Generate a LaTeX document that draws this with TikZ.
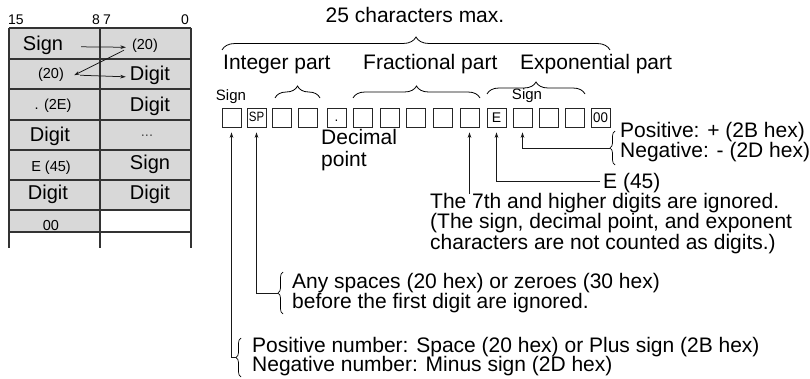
\documentclass[tikz,border=0pt]{standalone}
\usepackage{fontspec}
\setmainfont{Liberation Sans}
\usetikzlibrary{arrows.meta,decorations.pathreplacing,calc}
\definecolor{cellgray}{HTML}{D8D8D8}
\definecolor{linegray}{HTML}{333333}
\begin{document}
\begin{tikzpicture}[x=1pt,y=-1pt,
  bigt/.style={font=\fontsize{21}{22}\selectfont, inner sep=0pt, anchor=base west},
  bigc/.style={font=\fontsize{21}{22}\selectfont, inner sep=0pt, anchor=base},
  tbig/.style={font=\fontsize{20}{22}\selectfont, inner sep=0pt, anchor=base},
  tsmall/.style={font=\fontsize{14.5}{16}\selectfont, inner sep=0pt, anchor=base},
  hdr/.style={font=\fontsize{14}{16}\selectfont, inner sep=0pt, anchor=base},
  lbl/.style={font=\fontsize{15}{16}\selectfont, inner sep=0pt, anchor=base},
  boxt/.style={font=\fontsize{13.5}{14}\selectfont, inner sep=0pt},
  grid/.style={draw=linegray, line width=1.1pt},
  chbox/.style={draw=black!85, line width=0.75pt, minimum size=19pt, inner sep=0pt},
  arr/.style={-{Stealth[length=5.5pt,width=3.6pt]}, line width=0.75pt, black!90},
  bigbrace/.style={decorate, decoration={brace, amplitude=13pt}, line width=0.8pt},
  midbrace/.style={decorate, decoration={brace, amplitude=12pt}, line width=0.8pt},
  smbrace/.style={decorate, decoration={brace, amplitude=5pt}, line width=0.7pt}
]
\useasboundingbox (0,0) rectangle (810,379);

% ---------------- table ----------------
\fill[cellgray] (9,28) rectangle (191,210);
\fill[cellgray] (9,210) rectangle (100,232);
\foreach \yy in {28,59,89,120,150,180,210,232} \draw[grid] (9,\yy) -- (191,\yy);
\foreach \xx in {9,100,191} \draw[grid] (\xx,28) -- (\xx,248);

\node[hdr, anchor=base west] (h15) at (8,25) {15};
\node[hdr, anchor=base east] (h8) at (100,25) {8};
\node[hdr, anchor=base west] (h7) at (103,25) {7};
\node[hdr, anchor=base east] (h0) at (189,25) {0};

\node[tbig] (tSign) at (43,51) {Sign};
\node[tsmall] (t20r) at (145,50) {(20)};
\node[tsmall] (t20l) at (51,79) {(20)};
\node[tbig] (tDig1) at (150,81) {Digit};
\node[tsmall] (t2E) at (53,110) {. (2E)};
\node[tbig] (tDig2) at (150,112) {Digit};
\node[tbig] (tDig3) at (50,142) {Digit};
\node[tsmall, text=black!70] (tdots) at (147,137) {...};
\node[tsmall] (tE45) at (51,172) {E (45)};
\node[tbig] (tSign2) at (150,170) {Sign};
\node[tbig] (tDig4) at (48,200) {Digit};
\node[tbig] (tDig5) at (150,200) {Digit};
\node[tsmall] (t00) at (51,230) {00};

\draw[arr] ($(tSign.east)+(18,1)$) -- ($(t20r.west)+(-6,1)$);
\draw[arr] ($(t20r.west)+(-8,4)$) -- ($(t20l.east)+(10,0)$);
\draw[arr] ($(t20l.east)+(16,0)$) -- ($(tDig1.west)+(-4,1)$);

% ---------------- character boxes ----------------
\foreach \n/\xx in {1/222,2/247,3/272,4/298,5/327,6/353,7/380,8/406,9/433,10/460,11/487,12/513,13/539,14/565,15/591}
  \node[chbox] (b\n) at (\xx+9.5,117.5) {};
\node[boxt, xscale=0.85] (tSP) at ($(b2)+(0,-1)$) {SP};
\node[boxt, anchor=base] (tdot) at (336.5,122) {.};
\node[boxt, font=\fontsize{14}{14}\selectfont] (tE) at (b11) {E};
\node[boxt, font=\fontsize{14}{14}\selectfont, xscale=0.95] (t00b) at (b15) {00};

% ---------------- top labels ----------------
\node[bigc] (t25) at (415,23) {25 characters max.};
\draw[bigbrace] (222,50) -- (610,50);
\node[bigt] (tint) at (223,70) {Integer part};
\node[bigt] (tfrac) at (363,70) {Fractional part};
\node[bigt] (texp) at (520,70) {Exponential part};
\draw[midbrace] (275,98) -- (320,98);
\draw[midbrace] (353,98) -- (480,98);
\draw[midbrace] (487,94) -- (585,94);
\node[lbl] (sgn1) at (231,101) {Sign};
\node[lbl] (sgn2) at (527,100) {Sign};
\node[bigt, align=left, anchor=north west] (tdec) at (321,129) {Decimal\\point};

% ---------------- exponent sign ----------------
\node[bigt] (tpos) at (620,138) {Positive: + (2B hex)};
\node[bigt] (tneg) at (620,158) {Negative: - (2D hex)};
\draw[smbrace] (615,165) -- (615,131);
\coordinate (psTip) at (610,148);
\draw[arr, shorten >=5pt] (psTip) -| (b12.south);

% ---------------- E ----------------
\node[bigt] (te45) at (603,189) {E (45)};
\coordinate (eL) at ($(te45.base west)+(-3,-8)$);
\draw[arr, shorten >=5pt] (eL) -| (b11.south);

% ---------------- 7th digit ----------------
\node[bigt] (l71) at (430,209) {The 7th and higher digits are ignored.};
\node[bigt] (l72) at (430,229) {(The sign, decimal point, and exponent};
\node[bigt] (l73) at (430,249) {characters are not counted as digits.)};
\coordinate (t7top) at (b10.south |- l71.north);
\draw[arr, shorten >=5pt] (t7top) -- (b10.south);

% ---------------- leading spaces ----------------
\node[bigt] (la1) at (292,288) {Any spaces (20 hex) or zeroes (30 hex)};
\node[bigt] (la2) at (292,308) {before the first digit are ignored.};
\draw[smbrace] (283,314) -- (283,272);
\coordinate (spTip) at (278,293);
\draw[arr, shorten >=5pt] (spTip) -| (b2.south);

% ---------------- sign ----------------
\node[bigt] (lp1) at (252,352) {Positive number: Space (20 hex) or Plus sign (2B hex)};
\node[bigt] (lp2) at (252,371) {Negative number: Minus sign (2D hex)};
\draw[smbrace] (241,377) -- (241,338);
\coordinate (sgTip) at (236,357);
\draw[arr, shorten >=5pt] (sgTip) -| (b1.south);
\end{tikzpicture}
\end{document}
